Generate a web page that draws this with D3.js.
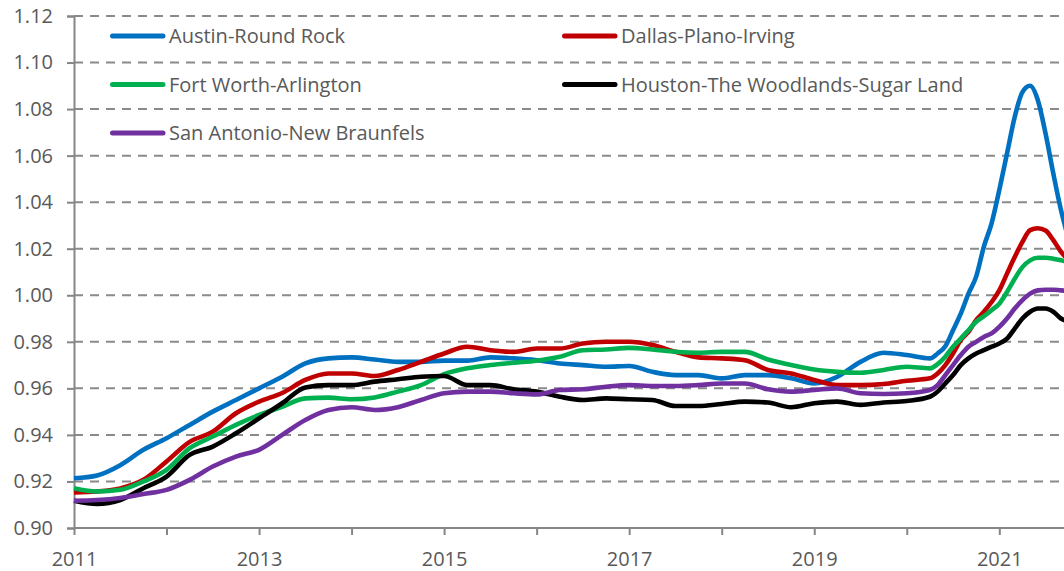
<!DOCTYPE html>
<html>
<head>
<meta charset="utf-8" />
<title>Texas metros</title>
<script src="https://d3js.org/d3.v7.min.js"></script>
<style>
  body { margin: 0; background: white; }
  svg text { font-family: "Open Sans", sans-serif; fill: #595959; }
</style>
</head>
<body>
<div id="chart"></div>
<script>
// quarterly up to 2020.25, then monthly
var quarters = [];
for (var k = 0; k <= 37; k++) quarters.push(2011 + k / 4);
var months = [];
for (var m = 4; m <= 21; m++) months.push(2020 + m / 12);
var dates = quarters.concat(months);

var austin = [0.9214, 0.9226, 0.927, 0.9336, 0.9386, 0.9443, 0.950, 0.955, 0.960, 0.965, 0.9707, 0.9729,
  0.9733, 0.9724, 0.9714, 0.9714, 0.9719, 0.9719, 0.9733, 0.9729, 0.9721, 0.9707, 0.970, 0.9693,
  0.9696, 0.9671, 0.9657, 0.9657, 0.9643, 0.9657, 0.9657, 0.9643, 0.9621, 0.965, 0.9714, 0.9753,
  0.9743, 0.9729,
  0.975, 0.9781, 0.985, 0.9921, 1.0007, 1.008, 1.0209, 1.0309, 1.0452, 1.0609, 1.0766, 1.0873,
  1.090, 1.0838, 1.0695, 1.0524, 1.0366, 1.024];
var dallas = [0.9153, 0.9157, 0.917, 0.9207, 0.9286, 0.937, 0.9414, 0.9493, 0.9543, 0.958, 0.9636, 0.9664,
  0.9664, 0.9653, 0.9679, 0.9714, 0.975, 0.9779, 0.9764, 0.9757, 0.9771, 0.9771, 0.9793, 0.980,
  0.980, 0.9786, 0.9757, 0.9733, 0.9729, 0.9721, 0.9679, 0.9664, 0.9636, 0.9614, 0.9614, 0.9619,
  0.9633, 0.9643,
  0.9664, 0.970, 0.975, 0.9807, 0.9843, 0.9893, 0.9929, 0.9971, 1.0021, 1.0093, 1.0164, 1.0229,
  1.028, 1.0288, 1.0278, 1.0237, 1.0187, 1.015];
var fortWorth = [0.9171, 0.9157, 0.9164, 0.920, 0.925, 0.9343, 0.9393, 0.9443, 0.9486, 0.9521, 0.9557, 0.956,
  0.9553, 0.9561, 0.9586, 0.9614, 0.9661, 0.9686, 0.970, 0.971, 0.9719, 0.9736, 0.9764, 0.9767,
  0.9774, 0.9767, 0.9757, 0.9753, 0.9757, 0.9757, 0.9724, 0.970, 0.9681, 0.9671, 0.9667, 0.9679,
  0.9693, 0.9686,
  0.9704, 0.9736, 0.9779, 0.9814, 0.985, 0.9886, 0.991, 0.9936, 0.9964, 1.0014, 1.0071, 1.0121,
  1.015, 1.0161, 1.0161, 1.0157, 1.015, 1.0143];
var houston = [0.9117, 0.9103, 0.912, 0.9171, 0.9221, 0.9314, 0.935, 0.9407, 0.9471, 0.9536, 0.9604, 0.9614,
  0.9614, 0.9629, 0.9639, 0.965, 0.9653, 0.9614, 0.9614, 0.9596, 0.9586, 0.9564, 0.955, 0.9557,
  0.9553, 0.955, 0.9524, 0.9524, 0.9533, 0.9543, 0.9539, 0.9519, 0.9536, 0.9543, 0.9529, 0.9539,
  0.9546, 0.9564,
  0.9586, 0.9621, 0.9657, 0.970, 0.9729, 0.975, 0.9764, 0.9779, 0.9793, 0.9814, 0.9857, 0.990,
  0.9929, 0.9943, 0.9943, 0.9929, 0.990, 0.9886];
var sanAntonio = [0.9117, 0.912, 0.9129, 0.9146, 0.9164, 0.9207, 0.9264, 0.9307, 0.9336, 0.940, 0.9464, 0.9507,
  0.9519, 0.9507, 0.9519, 0.955, 0.9579, 0.9586, 0.9586, 0.9579, 0.9574, 0.9593, 0.9596, 0.9607,
  0.9614, 0.961, 0.961, 0.9614, 0.9621, 0.9621, 0.9596, 0.9586, 0.9593, 0.96, 0.9579, 0.9576,
  0.9579, 0.9593,
  0.9614, 0.9657, 0.970, 0.9743, 0.9779, 0.980, 0.9821, 0.9836, 0.9864, 0.990, 0.9943, 0.9979,
  1.0007, 1.0021, 1.0024, 1.0024, 1.0021, 1.0019];

var names = ["Austin-Round Rock", "Dallas-Plano-Irving", "Fort Worth-Arlington",
  "Houston-The Woodlands-Sugar Land", "San Antonio-New Braunfels"];
var colors = ["#0070C0", "#C00000", "#00B050", "#000000", "#7030A0"];
var seriesValues = [austin, dallas, fortWorth, houston, sanAntonio];

var yTicks = [0.90, 0.92, 0.94, 0.96, 0.98, 1.00, 1.02, 1.04, 1.06, 1.08, 1.10, 1.12];
var xTicks = d3.range(2011, 2022);
var xLabels = [2011, 2013, 2015, 2017, 2019, 2021];

var width = 1064, height = 571;
var plotLeft = 74, plotRight = 1064, plotBottom = 528, plotTop = 16;

var x = d3.scaleLinear().domain([2011, 2021]).range([plotLeft, 999.3]);
var y = d3.scaleLinear().domain([0.90, 1.12]).range([plotBottom, plotTop]);

var svg = d3.select("#chart").append("svg")
  .attr("width", width)
  .attr("height", height);

// dashed gridlines
svg.selectAll(".grid")
  .data(yTicks.slice(1))
  .enter().append("line")
  .attr("class", "grid")
  .attr("x1", plotLeft).attr("x2", plotRight)
  .attr("y1", function(d) { return y(d); })
  .attr("y2", function(d) { return y(d); })
  .style("stroke", "#8a8a8a")
  .style("stroke-width", 2)
  .style("stroke-dasharray", "9,7");

// y axis
var yAxis = d3.axisLeft(y).tickValues(yTicks).tickSize(7).tickPadding(14)
  .tickFormat(d3.format(".2f"));
var gy = svg.append("g")
  .attr("transform", "translate(" + plotLeft + ",0)")
  .call(yAxis);

// x axis
var xAxis = d3.axisBottom(x).tickValues(xTicks).tickSize(7).tickPadding(17)
  .tickFormat(function(d) { return xLabels.indexOf(d) >= 0 ? d : ""; });
var gx = svg.append("g")
  .attr("transform", "translate(0," + plotBottom + ")")
  .call(xAxis);
gx.select(".domain").attr("d", "M" + plotLeft + ",0H" + plotRight);

[gx, gy].forEach(function(g) {
  g.select(".domain").style("stroke", "#868686").style("stroke-width", 2);
  g.selectAll(".tick line").style("stroke", "#868686").style("stroke-width", 2);
  g.selectAll(".tick text").style("font-size", "20px").style("fill", "#595959")
    .style("font-family", "'Open Sans', sans-serif");
});

// lines
var line = d3.line()
  .x(function(d) { return x(d[0]); })
  .y(function(d) { return y(d[1]); })
  .curve(d3.curveMonotoneX);

svg.selectAll(".series")
  .data(seriesValues)
  .enter().append("path")
  .attr("class", "series")
  .attr("d", function(vals) { return line(dates.map(function(t, i) { return [t, vals[i]]; })); })
  .style("fill", "none")
  .style("stroke", function(d, i) { return colors[i]; })
  .style("stroke-width", 4.6)
  .style("stroke-linejoin", "round");

// legend
var legendCols = [110, 562], legendRows = [36, 84.5, 133];
var lg = svg.selectAll(".legend")
  .data(names)
  .enter().append("g")
  .attr("class", "legend")
  .attr("transform", function(d, i) {
    return "translate(" + legendCols[i % 2] + "," + legendRows[Math.floor(i / 2)] + ")";
  });
lg.append("line")
  .attr("x1", 2.5).attr("x2", 53)
  .style("stroke", function(d, i) { return colors[i]; })
  .style("stroke-width", 5)
  .style("stroke-linecap", "round");
lg.append("text")
  .attr("x", 59).attr("y", 7)
  .style("font-size", "20px")
  .text(function(d) { return d; });
</script>
</body>
</html>
